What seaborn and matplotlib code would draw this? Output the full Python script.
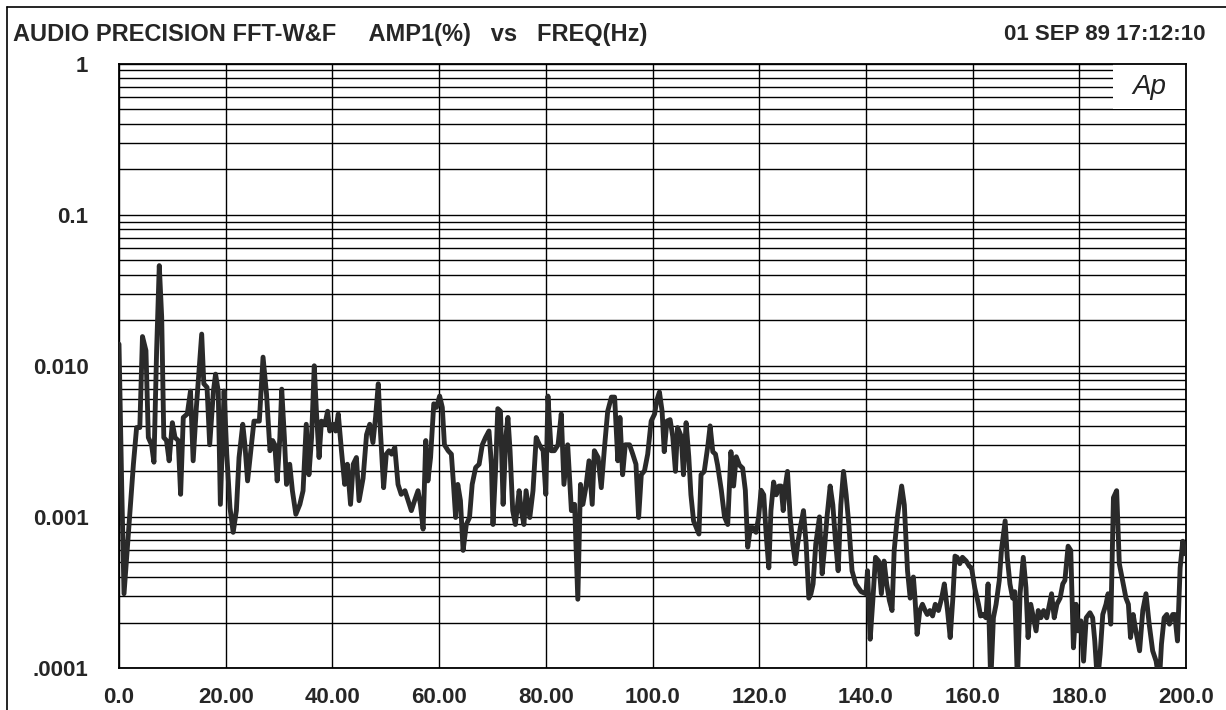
import matplotlib
matplotlib.use("Agg")
import matplotlib.pyplot as plt
import matplotlib.transforms as mtransforms
import pandas as pd
import seaborn as sns
from matplotlib.lines import Line2D
from matplotlib.patches import Rectangle
from matplotlib.ticker import FixedLocator, LogLocator, NullFormatter

# FFT spectrum: frequency (Hz) and amplitude (%)
freq_hz = [
    0.0, 0.5, 0.94, 1.75, 2.7, 3.3, 3.9, 4.4, 5.05, 5.5, 6.1, 6.55, 7.05, 7.55, 8.0, 8.4,
    8.9, 9.4, 10.0, 10.5, 11.1, 11.55, 12.05, 12.8, 13.4, 13.9, 14.5, 15.05, 15.5, 15.9,
    16.5, 17.0, 17.7, 18.1, 18.6, 19.0, 19.7, 20.2, 20.8, 21.4, 22.0, 22.5, 23.2, 23.6,
    24.1, 24.7, 25.3, 26.3, 27.0, 27.65, 28.3, 28.8, 29.2, 29.65, 30.15, 30.5, 31.0, 31.4,
    32.0, 32.5, 33.15, 33.9, 34.5, 35.1, 35.6, 36.1, 36.6, 37.0, 37.5, 37.95, 38.6, 39.1,
    39.5, 40.1, 40.6, 41.1, 41.7, 42.3, 42.8, 43.4, 43.9, 44.5, 45.0, 45.75, 46.4, 47.0,
    47.6, 48.1, 48.6, 49.0, 49.6, 50.1, 50.6, 51.1, 51.7, 52.3, 52.9, 53.6, 54.2, 54.8,
    55.4, 56.05, 56.5, 57.0, 57.5, 57.9, 58.4, 59.0, 59.5, 60.1, 60.6, 61.0, 61.7, 62.3,
    62.7, 63.1, 63.5, 64.0, 64.5, 65.1, 65.7, 66.2, 66.85, 67.5, 68.1, 68.7, 69.35, 69.8,
    70.1, 70.6, 71.0, 71.5, 72.0, 72.5, 72.9, 73.3, 73.8, 74.3, 75.0, 75.4, 75.9, 76.3,
    77.0, 77.6, 78.2, 78.8, 79.5, 80.0, 80.4, 81.0, 81.6, 82.3, 82.9, 83.4, 84.1, 84.8,
    85.4, 86.0, 86.5, 86.95, 87.5, 88.1, 88.7, 89.1, 89.8, 90.4, 91.0, 91.6, 92.3, 92.9,
    93.5, 93.9, 94.4, 94.9, 95.7, 96.3, 96.9, 97.4, 97.9, 98.5, 99.1, 99.75, 100.4, 100.8,
    101.3, 101.8, 102.2, 102.7, 103.3, 103.8, 104.3, 104.7, 105.4, 105.8, 106.3, 106.8,
    107.2, 107.7, 108.2, 108.7, 109.1, 109.7, 110.4, 110.8, 111.3, 111.8, 112.2, 112.9,
    113.5, 114.1, 114.7, 115.2, 115.7, 116.3, 116.9, 117.4, 117.85, 118.35, 118.8, 119.4,
    119.9, 120.35, 120.85, 121.3, 121.8, 122.2, 122.7, 123.2, 123.7, 124.1, 124.5, 124.9,
    125.3, 125.8, 126.3, 126.8, 127.2, 127.7, 128.3, 128.8, 129.3, 129.7, 130.1, 130.6,
    131.3, 131.8, 132.2, 132.7, 133.3, 133.8, 134.3, 134.8, 135.3, 135.8, 136.3, 136.8,
    137.4, 138.1, 139.1, 140.0, 140.3, 140.8, 141.3, 141.8, 142.4, 142.9, 143.4, 143.9,
    144.4, 144.9, 145.3, 145.9, 146.7, 147.2, 147.8, 148.3, 148.9, 149.2, 149.6, 150.1,
    150.6, 151.1, 151.5, 152.0, 152.5, 153.0, 153.6, 154.2, 154.7, 155.3, 155.8, 156.3,
    156.7, 157.1, 157.6, 158.1, 158.8, 159.4, 159.8, 160.4, 161.1, 161.5, 162.0, 162.5,
    162.9, 163.4, 163.9, 164.4, 165.0, 165.4, 166.1, 166.5, 167.0, 167.5, 167.9, 168.4,
    168.9, 169.5, 170.0, 170.4, 170.9, 171.4, 171.9, 172.3, 172.8, 173.3, 173.9, 174.4,
    174.8, 175.3, 175.8, 176.4, 176.9, 177.3, 177.9, 178.4, 178.9, 179.4, 179.8, 180.3,
    180.8, 181.3, 182.0, 182.5, 182.9, 183.4, 183.9, 184.4, 185.0, 185.4, 185.9, 186.4,
    187.0, 187.5, 188.1, 188.75, 189.2, 189.6, 190.1, 190.6, 191.3, 191.9, 192.5, 193.1,
    193.75, 194.4, 195.0, 195.4, 195.9, 196.4, 196.9, 197.5, 197.9, 198.4, 198.9, 199.4,
    199.8,
]
amp_pct = [
    0.0139, 0.00164, 0.00031, 0.00077, 0.00223, 0.0039, 0.0039, 0.0156, 0.0126, 0.00335,
    0.0030, 0.0023, 0.0126, 0.046, 0.021, 0.00335, 0.0032, 0.00235, 0.0042, 0.00335, 0.0032,
    0.00141, 0.00455, 0.0048, 0.0068, 0.00235, 0.0053, 0.0098, 0.0162, 0.0076, 0.0072,
    0.0030, 0.0068, 0.0088, 0.0068, 0.00121, 0.0068, 0.0026, 0.00115, 0.00079, 0.0011,
    0.00247, 0.0041, 0.0030, 0.00173, 0.00274, 0.0043, 0.0043, 0.0114, 0.0065, 0.00274,
    0.0032, 0.0030, 0.00173, 0.00335, 0.0070, 0.00335, 0.00164, 0.00223, 0.00149, 0.00104,
    0.00121, 0.00149, 0.0041, 0.0019, 0.00335, 0.0100, 0.0050, 0.00247, 0.0043, 0.0041,
    0.0050, 0.0037, 0.0041, 0.0037, 0.0048, 0.00274, 0.00164, 0.00223, 0.00121, 0.00223,
    0.00247, 0.00128, 0.0018, 0.0035, 0.0041, 0.0031, 0.0046, 0.0076, 0.0037, 0.00156,
    0.0026, 0.00274, 0.0026, 0.00288, 0.00164, 0.00141, 0.00149, 0.00128, 0.0011, 0.00128,
    0.00149, 0.00121, 0.00083, 0.0032, 0.00173, 0.00247, 0.0056, 0.0053, 0.0063, 0.0053,
    0.0030, 0.00274, 0.0026, 0.00164, 0.00099, 0.00164, 0.00128, 0.00060, 0.00089, 0.00099,
    0.00164, 0.00212, 0.00223, 0.0030, 0.00335, 0.0037, 0.00223, 0.00089, 0.00212, 0.0052,
    0.0050, 0.00121, 0.00335, 0.00455, 0.00274, 0.0011, 0.00089, 0.00149, 0.0011, 0.00089,
    0.00149, 0.00099, 0.00149, 0.00335, 0.0030, 0.00274, 0.00141, 0.0063, 0.00274, 0.00274,
    0.0030, 0.0048, 0.00164, 0.0030, 0.0011, 0.00121, 0.000285, 0.00164, 0.00121, 0.00156,
    0.00235, 0.00121, 0.00274, 0.00247, 0.00156, 0.00288, 0.0050, 0.0062, 0.0062, 0.00235,
    0.00455, 0.0019, 0.0030, 0.0030, 0.0026, 0.00223, 0.00099, 0.0019, 0.00202, 0.0026,
    0.0043, 0.0048, 0.0059, 0.0067, 0.0050, 0.0027, 0.0043, 0.0044, 0.0034, 0.0020, 0.0039,
    0.0034, 0.0019, 0.0042, 0.0025, 0.0014, 0.00094, 0.00085, 0.00077, 0.0019, 0.0020,
    0.0030, 0.0040, 0.0027, 0.0026, 0.0022, 0.0015, 0.0010, 0.00089, 0.0027, 0.0016, 0.0025,
    0.0022, 0.0021, 0.0015, 0.00063, 0.00085, 0.00085, 0.00079, 0.0010, 0.0015, 0.0014,
    0.00077, 0.00046, 0.0011, 0.0017, 0.0014, 0.0016, 0.0016, 0.0011, 0.0016, 0.0020, 0.0010,
    0.00066, 0.00049, 0.00066, 0.00085, 0.0011, 0.00066, 0.00029, 0.00031, 0.00036, 0.00066,
    0.0010, 0.00042, 0.00060, 0.00099, 0.0016, 0.0012, 0.00069, 0.00044, 0.0012, 0.0020,
    0.0014, 0.00089, 0.00044, 0.00036, 0.00032, 0.00031, 0.00044, 0.000155, 0.00028, 0.00054,
    0.00051, 0.00031, 0.00051, 0.00036, 0.00028, 0.00024, 0.00060, 0.0010, 0.0016, 0.0012,
    0.00044, 0.00029, 0.00040, 0.00029, 0.000167, 0.00024, 0.000264, 0.00024, 0.000226,
    0.00024, 0.000221, 0.000264, 0.00024, 0.00029, 0.00036, 0.00024, 0.000159, 0.00029,
    0.00055, 0.00054, 0.00049, 0.00054, 0.00051, 0.00047, 0.00046, 0.00034, 0.000264,
    0.000221, 0.000226, 0.000215, 0.00036, 0.00008, 0.000215, 0.000264, 0.00038, 0.00060,
    0.00094, 0.00054, 0.00036, 0.00029, 0.00032, 0.00008, 0.00031, 0.00054, 0.00034,
    0.000159, 0.000264, 0.000215, 0.000176, 0.00024, 0.000215, 0.00024, 0.000215, 0.000264,
    0.00031, 0.000215, 0.000264, 0.00029, 0.00036, 0.00038, 0.00064, 0.00060, 0.000136,
    0.000264, 0.000176, 0.000205, 0.000111, 0.000215, 0.000232, 0.000215, 0.000151, 0.00008,
    0.000123, 0.000226, 0.000264, 0.00031, 0.000195, 0.00134, 0.00149, 0.00049, 0.00038,
    0.00029, 0.000264, 0.000159, 0.000226, 0.000176, 0.00013, 0.00024, 0.00031, 0.000195,
    0.00013, 0.000111, 0.00008, 0.000144, 0.000215, 0.000226, 0.000195, 0.000226, 0.000226,
    0.000151, 0.00046, 0.00069, 0.00057,
]

x_ticks = [0, 20, 40, 60, 80, 100, 120, 140, 160, 180, 200]
x_labels = ["0.0", "20.00", "40.00", "60.00", "80.00", "100.0",
            "120.0", "140.0", "160.0", "180.0", "200.0"]
y_ticks = [1e-4, 1e-3, 1e-2, 1e-1, 1]
y_labels = [".0001", "0.001", "0.010", "0.1", "1"]

title = "AUDIO PRECISION FFT-W&F     AMP1(%)   vs   FREQ(Hz)"
stamp = "01 SEP 89 17:12:10"

sns.set_theme(style="white")
plt.rcParams["font.family"] = ["Liberation Sans", "DejaVu Sans"]

W, H = 1226, 710
fig = plt.figure(figsize=(W / 100, H / 100), dpi=100)
left, right, top, bottom = 119, 1186, 63.5, 668
ax = fig.add_axes([left / W, 1 - bottom / H, (right - left) / W, (bottom - top) / H])

df = pd.DataFrame({"freq": freq_hz, "amp": amp_pct})
sns.lineplot(data=df, x="freq", y="amp", ax=ax, color="#2a2a2a", lw=3.5,
             estimator=None, sort=False, zorder=3)

ax.set_yscale("log")
ax.set_xlim(0, 200)
ax.set_ylim(1e-4, 1)
ax.xaxis.set_major_locator(FixedLocator(x_ticks))
ax.set_xticklabels(x_labels)
ax.yaxis.set_major_locator(FixedLocator(y_ticks))
ax.set_yticklabels(y_labels)
ax.yaxis.set_minor_locator(LogLocator(base=10, subs=range(2, 10)))
ax.yaxis.set_minor_formatter(NullFormatter())
ax.set_axisbelow(True)
ax.grid(which="both", axis="y", color="black", lw=1.0)
ax.grid(which="major", axis="x", color="black", lw=1.0)
ax.tick_params(which="both", length=0, labelsize=16)
ax.tick_params(axis="y", pad=22)
ax.tick_params(axis="x", pad=14)
for lbl in ax.get_xticklabels() + ax.get_yticklabels():
    lbl.set_fontweight("bold")
for s in ax.spines.values():
    s.set_color("black")
    s.set_linewidth(1.3)
ax.set_xlabel("")
ax.set_ylabel("")

# "Ap" logo box in the top right corner
blend = mtransforms.blended_transform_factory(ax.transAxes, ax.transData)
ax.add_patch(Rectangle((0.932, 0.5), 0.068, 0.5, transform=blend,
                       facecolor="white", edgecolor="none", zorder=1.5))
ax.text(0.966, 0.70, "Ap", transform=blend, ha="center", va="center",
        fontsize=20, fontstyle="italic", color="#222222", zorder=4)

fig.text(13 / W, 1 - 35 / H, title, fontsize=17, fontweight="bold", ha="left", va="center")
fig.text(1205 / W, 1 - 35 / H, stamp, fontsize=16, fontweight="bold", ha="right", va="center")

# outer frame (left and top edges)
fig.add_artist(Line2D([7 / W, 7 / W], [0, 1 - 7 / H], transform=fig.transFigure, color="black", lw=1.2))
fig.add_artist(Line2D([7 / W, 1], [1 - 7 / H, 1 - 7 / H], transform=fig.transFigure, color="black", lw=1.2))

fig.savefig("out.png", dpi=100)
